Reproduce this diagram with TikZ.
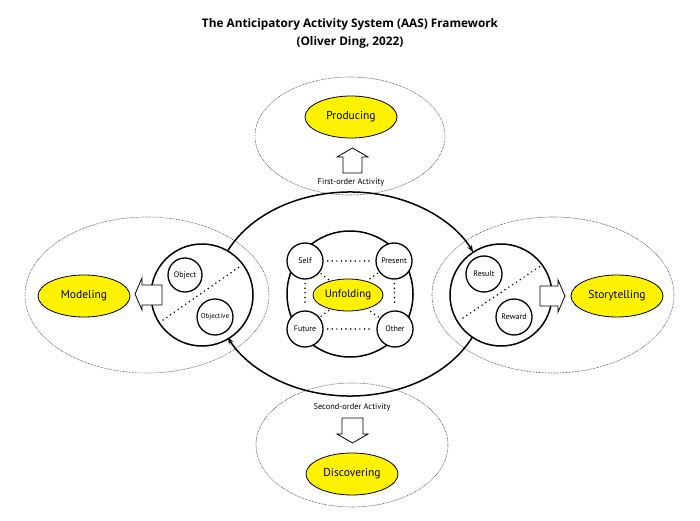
\documentclass[tikz,border=0pt]{standalone}
\usepackage{fontspec}
\setmainfont{PT Sans}
\newfontfamily\titlefont{Open Sans}
\usetikzlibrary{arrows.meta,calc,shapes.geometric}
\definecolor{hiyellow}{RGB}{255,242,0}
\begin{document}
\begin{tikzpicture}[x=1pt,y=1pt,
  zone/.style={ellipse, draw=black!70, line width=0.6pt, dash pattern=on 0.7pt off 0.8pt, inner sep=0pt},
  yell/.style={ellipse, draw=black, line width=0.8pt, fill=hiyellow, inner sep=0pt, minimum width=92, minimum height=42, font=\fontsize{11.5}{13}\selectfont},
  bigcirc/.style={circle, draw=black, line width=1.5pt, fill=white, inner sep=0pt},
  smallcirc/.style={circle, draw=black, line width=1.3pt, fill=white, inner sep=0pt, minimum size=36, font=\fontsize{8}{9}\selectfont},
  dots/.style={line width=1.7pt, dash pattern=on 0pt off 4.6pt, line cap=round},
  blockarrow/.style={draw=black, line width=0.8pt, fill=white},
  smalltext/.style={font=\fontsize{8.4}{10}\selectfont, inner sep=1pt},
  cyclearrow/.style={line width=1.5pt, -{Stealth[length=7pt,width=5pt]}}]
\useasboundingbox (0,0) rectangle (700,520);
\fill[white] (0,0) rectangle (700,520);

% title
\node[font=\titlefont\bfseries\fontsize{11.8}{17.5}\selectfont, align=center] (title) at (350,486.5)
  {The Anticipatory Activity System (AAS) Framework\\(Oliver Ding, 2022)};

% dotted zones
\node[zone, minimum width=190, minimum height=118] (topzone) at (350,384) {};
\node[zone, minimum width=192, minimum height=124] (botzone) at (352,75) {};
\node[zone, minimum width=244, minimum height=156] (leftzone) at (147,225) {};
\node[zone, minimum width=242, minimum height=156] (rightzone) at (553,225) {};

% yellow outcome nodes
\node[yell] (producing) at (351,403) {Producing};
\node[yell] (discovering) at (352,46) {Discovering};
\node[yell] (modeling) at (84,224) {Modeling};
\node[yell] (storytelling) at (617,224) {Storytelling};

% labels
\node[smalltext] (firstorder) at (351,338) {First-order Activity};
\node[smalltext] (secondorder) at (352,113) {Second-order Activity};

% vertical block arrows
\draw[blockarrow] (343,347) -- (362,347) -- (362,363) -- (368,363) -- (352.5,372) -- (337,363) -- (343,363) -- cycle;
\draw[blockarrow] (342,102) -- (363,102) -- (363,86) -- (368,86) -- (352.5,77) -- (337,86) -- (342,86) -- cycle;

% big cycle ellipse arcs
\coordinate (bigc) at (350,226);
\coordinate (topstart) at ($(bigc)+(155:135 and 102)$);
\coordinate (botstart) at ($(bigc)+(335.8:135 and 102)$);
\draw[cyclearrow] (topstart) arc[start angle=155, end angle=24.2, x radius=135, y radius=102];
\draw[cyclearrow] (botstart) arc[start angle=335.8, end angle=205, x radius=135, y radius=102];

% left circle
\node[bigcirc, minimum size=102] (leftc) at (202,225) {};
\node[smallcirc, minimum size=34] (object) at (185,245) {Object};
\node[smallcirc, font=\fontsize{7}{8}\selectfont] (objective) at (215,203) {Objective};
\coordinate (ldotA) at (163,200);
\coordinate (ldotB) at (242,255);
\draw[dots] (ldotA) -- (ldotB);

% right circle
\node[bigcirc, minimum size=102] (rightc) at (501,225) {};
\node[smallcirc] (result) at (484,246) {Result};
\node[smallcirc] (reward) at (514,203) {Reward};
\coordinate (rdotA) at (463,202);
\coordinate (rdotB) at (542,255);
\draw[dots] (rdotA) -- (rdotB);

% horizontal block arrows (drawn over the circles)
\draw[blockarrow] (162,215) -- (162,235) -- (142,235) -- (142,242) -- (135,226) -- (142,210) -- (142,215) -- cycle;
\draw[blockarrow] (540,214) -- (540,234) -- (558,234) -- (558,240) -- (565,224) -- (558,208) -- (558,214) -- cycle;

% center ring
\node[bigcirc, minimum size=126] (ring) at (350,226) {};
\node[smallcirc] (self) at (305,259) {Self};
\node[smallcirc] (present) at (394,259) {Present};
\node[smallcirc] (future) at (305,191) {Future};
\node[smallcirc] (other) at (395,191) {Other};
\node[ellipse, draw=black, line width=0.8pt, fill=hiyellow, inner sep=0pt, minimum width=70, minimum height=32, font=\fontsize{11}{13}\selectfont] (unfolding) at (348,225) {Unfolding};

\draw[dots, shorten <=4pt, shorten >=4pt] (self) -- (present);
\draw[dots, shorten <=4pt, shorten >=4pt] (future) -- (other);
\draw[dots, shorten <=4pt, shorten >=4pt] (self) -- (future);
\draw[dots, shorten <=4pt, shorten >=4pt] (present) -- (other);
\draw[dots, shorten <=2pt, shorten >=1pt] (self) -- (unfolding);
\draw[dots, shorten <=2pt, shorten >=1pt] (present) -- (unfolding);
\draw[dots, shorten <=2pt, shorten >=1pt] (future) -- (unfolding);
\draw[dots, shorten <=2pt, shorten >=1pt] (other) -- (unfolding);
\end{tikzpicture}
\end{document}
